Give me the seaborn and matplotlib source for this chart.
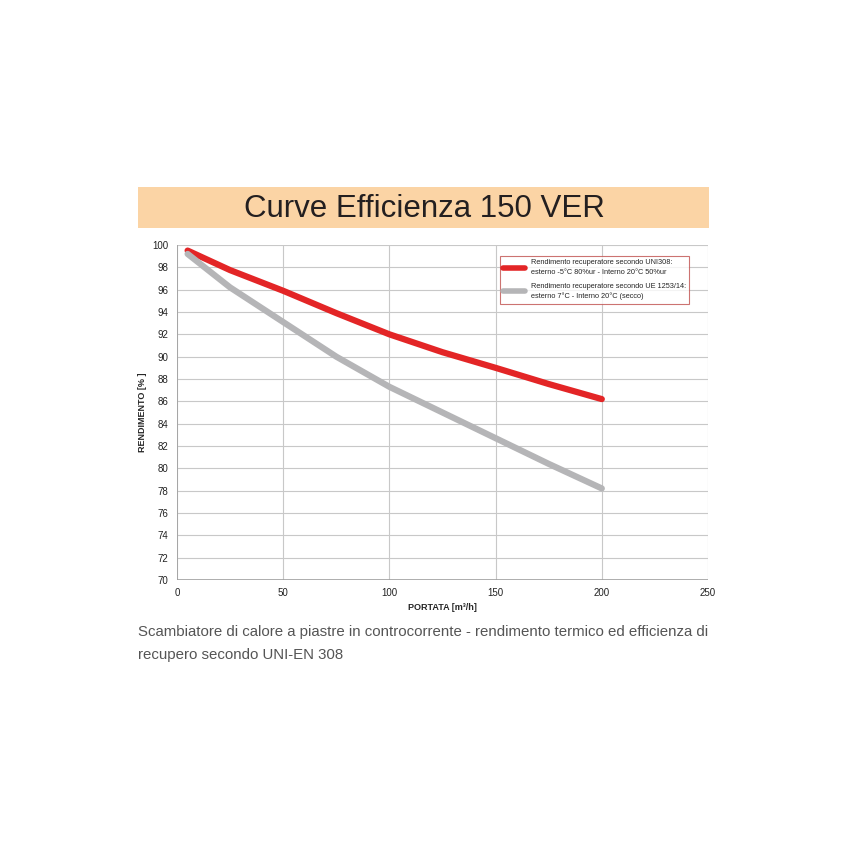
import numpy as np
import pandas as pd
import matplotlib
matplotlib.use("Agg")
import matplotlib.pyplot as plt
import seaborn as sns
from matplotlib.patches import Rectangle

# values
portata = [5, 25, 50, 75, 100, 125, 150, 175, 200]
uni308 = [99.5, 97.75, 95.9, 93.9, 92.0, 90.4, 89.0, 87.55, 86.2]
ue1253 = [99.2, 96.2, 93.1, 90.0, 87.3, 85.0, 82.7, 80.4, 78.2]

label_red = "Rendimento recuperatore secondo UNI308:\nesterno -5°C 80%ur - Interno 20°C 50%ur"
label_gray = "Rendimento recuperatore secondo UE 1253/14:\nesterno 7°C - Interno 20°C (secco)"

df = pd.DataFrame({
    "portata": portata * 2,
    "rendimento": uni308 + ue1253,
    "serie": [label_red] * len(portata) + [label_gray] * len(portata),
})

sns.set_style("white")
plt.rcParams['font.family'] = ['Liberation Sans', 'DejaVu Sans']

fig = plt.figure(figsize=(8.5, 8.5), dpi=100)
ax = fig.add_axes([177/850, 1 - 580/850, (708-177)/850, (580-245)/850])

sns.lineplot(data=df, x="portata", y="rendimento", hue="serie",
             palette={label_red: "#e32526", label_gray: "#b5b5b7"},
             linewidth=4.5, ax=ax, legend=True, solid_capstyle="round",
             solid_joinstyle="round")

ax.set_xlim(0, 250)
ax.set_ylim(70, 100)
ax.set_xticks(range(0, 251, 50))
ax.set_yticks(range(70, 101, 2))
ax.grid(True, color="#c8c8c8", linewidth=0.8)
for s in ax.spines.values():
    s.set_visible(False)
ax.axhline(70, color="#a0a0a0", linewidth=1.2, zorder=1)
ax.axvline(0, color="#a0a0a0", linewidth=1.2, zorder=1)
ax.tick_params(axis="both", labelsize=7, length=2, colors="#222222", pad=4)
ax.set_xlabel("PORTATA [m³/h]", fontsize=6.5, fontweight="bold", labelpad=3)
ax.set_ylabel("RENDIMENTO [% ]", fontsize=6.5, fontweight="bold", labelpad=4)

leg = ax.legend(loc="upper right", bbox_to_anchor=(0.972, 0.979), fontsize=5.3,
                frameon=True, fancybox=False, handlelength=3.0, borderpad=0.5,
                labelspacing=0.9, handletextpad=0.7, title=None)
leg.get_frame().set_edgecolor("#c0504d")
leg.get_frame().set_linewidth(0.8)
for t in leg.get_texts():
    t.set_linespacing(1.5)
for line in leg.get_lines():
    line.set_linewidth(4)

# title band
fig.patches.append(Rectangle((138/850, 1 - 228/850), (709-138)/850, 41/850,
                             transform=fig.transFigure, facecolor="#fbd4a5",
                             edgecolor="none"))
fig.text(424/850, 1 - 209/850, "Curve Efficienza 150 VER", ha="center", va="center",
         fontsize=22.5, color="#231f20")

cap = "Scambiatore di calore a piastre in controcorrente - rendimento termico ed efficienza di\nrecupero secondo UNI-EN 308"
fig.text(138/850, 1 - 625/850, cap, ha="left", va="top", fontsize=10.8,
         color="#555555", linespacing=1.85)

fig.savefig("out.png", dpi=100, facecolor="white")
